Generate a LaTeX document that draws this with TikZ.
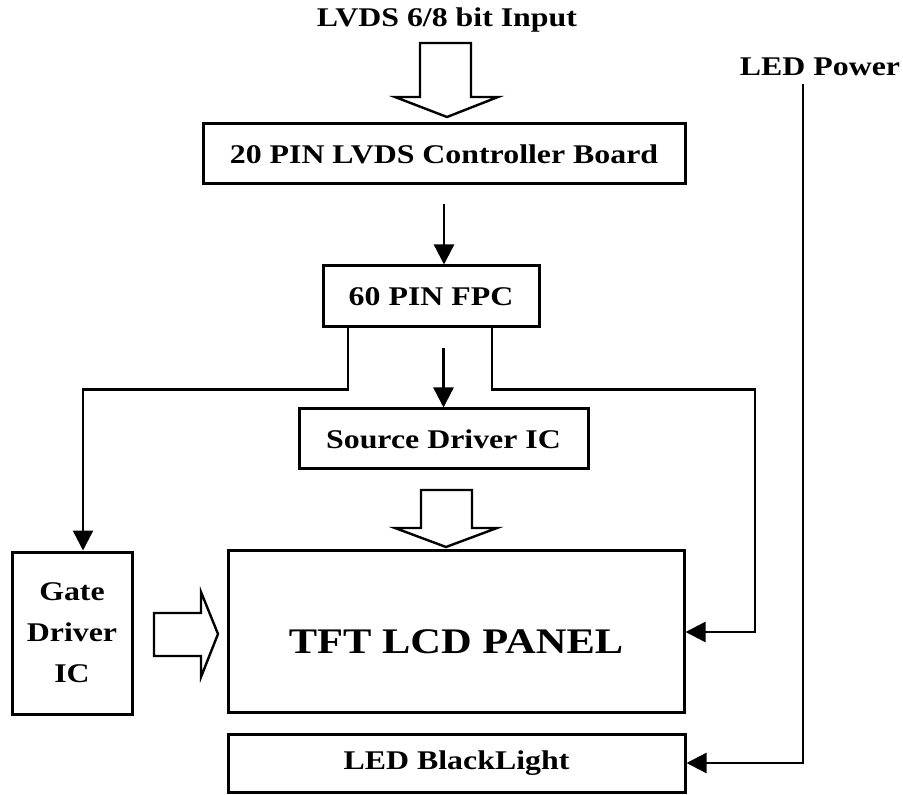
\documentclass[tikz,border=0pt]{standalone}
\usepackage{fontspec}
\setmainfont{Liberation Serif}[FakeStretch=1.18]
\usepackage{tikz}
\usetikzlibrary{arrows.meta}

\begin{document}
\begin{tikzpicture}[
    x=0.5pt, y=-0.5pt,
    box/.style={rectangle, draw, line width=1.5pt, inner sep=0pt, align=center, font=\bfseries\fontsize{13.5}{20.5}\selectfont},
    label/.style={inner sep=0pt, font=\bfseries\fontsize{13.5}{16}\selectfont},
    arrow/.style={-{Triangle[length=10pt,width=10pt]}, line width=1.2pt},
    hollow/.style={draw, line width=1.2pt, fill=white, line join=miter}
]
\useasboundingbox[fill=white] (0,0) rectangle (903,795);

\node[label] (lvds) at (447,20) {LVDS 6/8 bit Input};
\node[label] (ledpwr) at (820,67) {LED Power};
\node[box, minimum width=241pt, minimum height=30pt] (ctrl) at (444,154) {20 PIN LVDS Controller Board};
\node[box, minimum width=108pt, minimum height=30.5pt] (fpc) at (431,296.5) {60 PIN FPC};
\node[box, minimum width=144.5pt, minimum height=30pt] (src) at (443.5,439) {Source Driver IC};
\node[box, minimum width=228pt, minimum height=81pt, text height=22pt, text depth=0pt, font=\bfseries\fontsize{18}{20}\selectfont] (panel) at (456,631) {TFT LCD PANEL};
\node[box, minimum width=60pt, minimum height=81pt] (gate) at (72,633) {Gate\\Driver\\IC};
\node[box, minimum width=228.5pt, minimum height=29pt] (bl) at (456.5,763) {LED BlackLight};

% fat arrows
\draw[hollow] (420,43) -- (471,43) -- (471,97) -- (498,97) -- (447,117) -- (395,97) -- (420,97) -- cycle;
\draw[hollow] (421,490) -- (472,490) -- (472,528) -- (497,528) -- (446,547) -- (395,528) -- (421,528) -- cycle;
\draw[hollow] (154,613) -- (201,613) -- (201,592) -- (218,634) -- (201,677) -- (201,656) -- (154,656) -- cycle;

% signal lines
\draw[arrow, shorten <=9.5pt] (ctrl.south) -- (ctrl.south |- fpc.north);
\draw[arrow, shorten <=10pt] (fpc.south -| src.north) -- (src.north);
\draw[arrow] ([xshift=-41.5pt]fpc.south) -- ++(0,61) -| ([xshift=5.5pt]gate.north);
\draw[arrow] ([xshift=30.5pt]fpc.south) -- ++(0,61) -- ++(263,0) |- ([yshift=-0.5pt]panel.east);
\draw[arrow, shorten <=4pt] ([xshift=-8.5pt]ledpwr.south) |- (bl.east);
\end{tikzpicture}
\end{document}
